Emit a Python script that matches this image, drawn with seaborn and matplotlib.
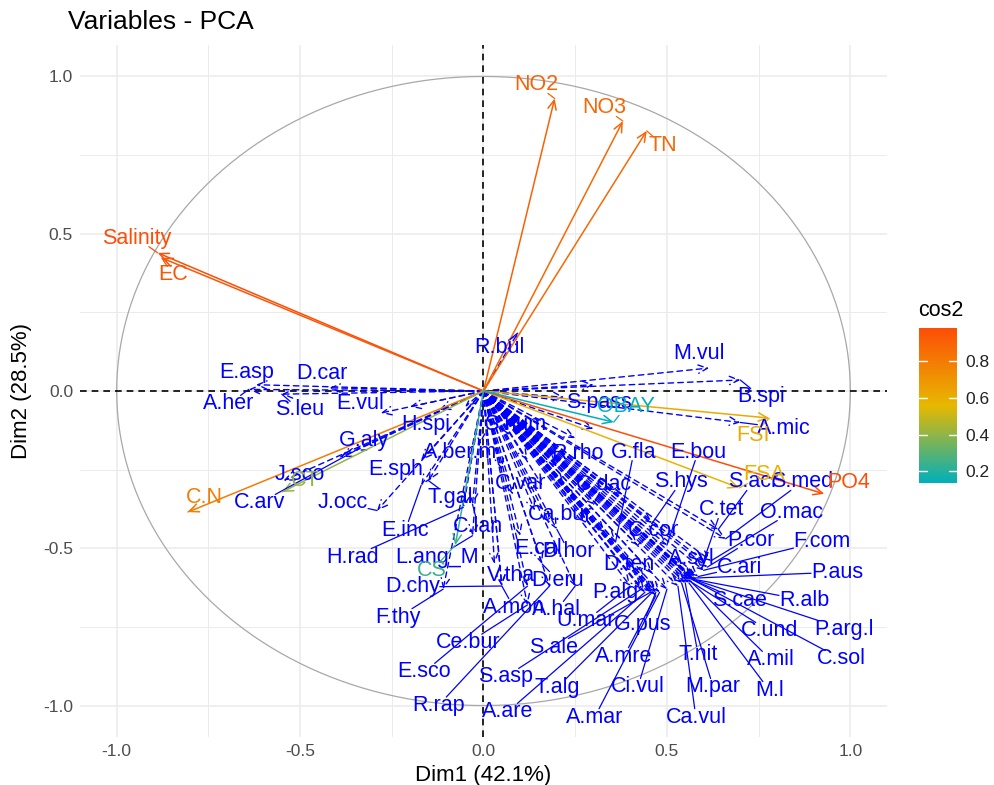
import numpy as np
import pandas as pd
import seaborn as sns
import matplotlib
matplotlib.use('Agg')
import matplotlib.pyplot as plt
from matplotlib.colors import Normalize
from matplotlib.cm import ScalarMappable

# active variables (environment): arrow tips and label positions
env_names = ['Salinity', 'EC', 'NO2', 'NO3', 'TN', 'FSI', 'FSA', 'PO4', 'OBAY', 'C.N', 'CT', 'CS']
env_x = [-0.888, -0.877, 0.194, 0.380, 0.445, 0.779, 0.697, 0.929, 0.355, -0.806, -0.549, -0.077]
env_y = [0.439, 0.423, 0.930, 0.858, 0.827, -0.086, -0.308, -0.327, -0.099, -0.385, -0.321, -0.490]
env_lab_x = [-0.945, -0.847, 0.145, 0.330, 0.490, 0.735, 0.765, 0.995, 0.388, -0.760, -0.486, -0.140]
env_lab_y = [0.486, 0.369, 0.973, 0.900, 0.780, -0.140, -0.267, -0.290, -0.050, -0.340, -0.283, -0.570]

# supplementary variables (species)
sp_names = ['E.asp', 'D.car', 'A.her', 'S.leu', 'E.vul', 'G.aly', 'H.spi', 'J.sco', 'C.arv', 'J.occ',
            'E.sph', 'T.gal', 'E.inc', 'C.lan', 'H.rad', 'L.ang_M', 'D.chy', 'F.thy', 'V.tha', 'E.cal',
            'D.hor', 'D.eru', 'P.alg', 'D.ten', 'A.mon', 'A.hal', 'Ce.bur', 'E.sco', 'S.asp', 'R.rap',
            'A.are', 'S.ale', 'U.mar', 'G.pus', 'A.mre', 'T.alg', 'A.mar', 'Ci.vul', 'Ca.vul', 'M.par',
            'T.nit', 'M.l', 'A.mil', 'C.sol', 'C.und', 'P.arg.l', 'R.alb', 'S.cae', 'P.aus', 'C.ari',
            'F.com', 'P.cor', 'O.mac', 'C.tet', 'A.syl', 'C.cor', 'S.hys', 'E.bou', 'G.fla', 'S.acr',
            'S.med', 'C.dac', 'Ca.bur', 'C.var', 'R.rho', 'A.ber.m', 'S.hum', 'S.pass', 'R.bul', 'M.vul',
            'B.spi', 'A.mic']
sp_x = [-0.62, -0.42, -0.64, -0.55, -0.28, -0.39, -0.12, -0.545, -0.35, -0.29,
        -0.17, -0.15, -0.17, -0.03, -0.055, -0.03, 0.05, -0.11, 0.03, 0.10,
        0.20, 0.16, 0.44, 0.46, 0.05, 0.25, 0.12, 0.12, 0.43, 0.18,
        0.44, 0.455, 0.40, 0.47, 0.47, 0.46, 0.48, 0.50, 0.53, 0.54,
        0.55, 0.56, 0.56, 0.57, 0.57, 0.575, 0.58, 0.58, 0.57, 0.585,
        0.60, 0.61, 0.62, 0.60, 0.54, 0.42, 0.46, 0.50, 0.36, 0.64,
        0.66, 0.30, 0.18, 0.08, 0.20, -0.01, 0.07, 0.22, 0.093, 0.615,
        0.70, 0.70]
sp_y = [0.02, 0.01, 0.005, -0.01, -0.07, -0.21, -0.06, -0.285, -0.19, -0.38,
        -0.22, -0.285, -0.30, -0.36, -0.37, -0.46, -0.62, -0.63, -0.55, -0.46,
        -0.44, -0.55, -0.60, -0.58, -0.62, -0.62, -0.68, -0.62, -0.63, -0.62,
        -0.64, -0.64, -0.62, -0.64, -0.65, -0.64, -0.64, -0.63, -0.62, -0.61,
        -0.61, -0.61, -0.60, -0.60, -0.61, -0.60, -0.60, -0.605, -0.595, -0.59,
        -0.57, -0.56, -0.54, -0.54, -0.56, -0.49, -0.42, -0.49, -0.48, -0.44,
        -0.47, -0.36, -0.42, -0.33, -0.24, -0.17, -0.14, -0.02, 0.184, 0.073,
        0.035, -0.10]
sp_lab_x = [-0.645, -0.44, -0.694, -0.50, -0.336, -0.325, -0.158, -0.50, -0.61, -0.383,
            -0.24, -0.09, -0.213, -0.014, -0.358, -0.126, -0.194, -0.232, 0.074, 0.15,
            0.232, 0.202, 0.36, 0.396, 0.082, 0.20, -0.041, -0.161, 0.06, -0.123,
            0.066, 0.19, 0.279, 0.434, 0.383, 0.20, 0.303, 0.421, 0.579, 0.626,
            0.585, 0.779, 0.784, 0.975, 0.779, 0.984, 0.874, 0.697, 0.964, 0.697,
            0.923, 0.73, 0.839, 0.648, 0.566, 0.464, 0.538, 0.585, 0.41, 0.735,
            0.869, 0.328, 0.21, 0.101, 0.257, -0.063, 0.085, 0.314, 0.044, 0.587,
            0.757, 0.82]
sp_lab_y = [0.060, 0.057, -0.041, -0.06, -0.041, -0.156, -0.105, -0.267, -0.356, -0.356,
            -0.251, -0.337, -0.442, -0.432, -0.528, -0.528, -0.623, -0.719, -0.585, -0.50,
            -0.509, -0.601, -0.64, -0.55, -0.687, -0.696, -0.80, -0.893, -0.909, -1.0,
            -1.02, -0.814, -0.731, -0.741, -0.843, -0.944, -1.037, -0.941, -1.037, -0.941,
            -0.839, -0.951, -0.855, -0.852, -0.763, -0.757, -0.665, -0.665, -0.576, -0.56,
            -0.477, -0.474, -0.385, -0.378, -0.534, -0.445, -0.289, -0.194, -0.194, -0.289,
            -0.289, -0.296, -0.394, -0.293, -0.20, -0.197, -0.108, -0.035, 0.137, 0.118,
            -0.019, -0.118]

# species whose labels are hidden in the crowd (only arrows visible)
extra_x = [0.12, 0.16, 0.22, 0.25, 0.14, 0.28, 0.33, 0.10, 0.05, 0.30, -0.05, -0.20, 0.38, 0.25, 0.30]
extra_y = [-0.22, -0.30, -0.30, -0.35, -0.38, -0.42, -0.45, -0.12, -0.25, -0.12, -0.05, -0.05, -0.33, -0.15, 0.02]

env = pd.DataFrame({'name': env_names, 'x': env_x, 'y': env_y, 'lx': env_lab_x, 'ly': env_lab_y})
env['cos2'] = env['x'] ** 2 + env['y'] ** 2
sp = pd.DataFrame({'name': sp_names, 'x': sp_x, 'y': sp_y, 'lx': sp_lab_x, 'ly': sp_lab_y})

sns.set_theme(style='whitegrid')
plt.rcParams['font.family'] = ['Liberation Sans', 'DejaVu Sans']
plt.rcParams['axes.unicode_minus'] = False

cmap = sns.blend_palette(['#00AFBB', '#E7B800', '#FC4E07'], as_cmap=True)
norm = Normalize(env['cos2'].min(), env['cos2'].max())

fig = plt.figure(figsize=(9.95, 7.85), dpi=100)
ax = fig.add_axes([80 / 995, 1 - 737 / 785, 807 / 995, 692 / 785])
ax.set_xlim(-1.1, 1.1)
ax.set_ylim(-1.1, 1.1)
ax.set_facecolor('white')
for s in ax.spines.values():
    s.set_visible(False)

ticks = [-1.0, -0.5, 0.0, 0.5, 1.0]
ax.set_xticks(ticks)
ax.set_yticks(ticks)
ax.set_xticks([-0.75, -0.25, 0.25, 0.75], minor=True)
ax.set_yticks([-0.75, -0.25, 0.25, 0.75], minor=True)
ax.grid(which='major', color='#EBEBEB', lw=1.1)
ax.grid(which='minor', color='#EBEBEB', lw=0.7)
ax.tick_params(which='both', length=0, labelsize=12.5, labelcolor='#4D4D4D', pad=5)
ax.set_axisbelow(True)

# correlation circle
t = np.linspace(0, 2 * np.pi, 400)
ax.plot(np.cos(t), np.sin(t), color='#A8A8A8', lw=0.9, zorder=1)
ax.axhline(0, color='black', ls=(0, (4, 3)), lw=1.2, zorder=2)
ax.axvline(0, color='black', ls=(0, (4, 3)), lw=1.2, zorder=2)

head = '->,head_length=0.55,head_width=0.25'

# species arrows (dashed, blue)
for x, y in list(zip(sp['x'], sp['y'])) + list(zip(extra_x, extra_y)):
    ax.annotate('', xy=(x, y), xytext=(0, 0),
                arrowprops=dict(arrowstyle=head, color='blue', lw=1.0, linestyle=(0, (4, 3)),
                                shrinkA=0, shrinkB=0), zorder=3)

# environment arrows coloured by cos2
for _, r in env.iterrows():
    ax.annotate('', xy=(r['x'], r['y']), xytext=(0, 0),
                arrowprops=dict(arrowstyle=head, color=cmap(norm(r['cos2'])), lw=1.1,
                                shrinkA=0, shrinkB=0), zorder=4)

renderer = fig.canvas.get_renderer()
inv = ax.transData.inverted()


def label_with_leader(x, y, lx, ly, name, color):
    txt = ax.text(lx, ly, name, color=color, fontsize=15.5, ha='center', va='center', zorder=6)
    bb = txt.get_window_extent(renderer)
    px, py = ax.transData.transform((x, y))
    cx, cy = (bb.x0 + bb.x1) / 2, (bb.y0 + bb.y1) / 2
    dx, dy = cx - px, cy - py
    hw, hh = bb.width / 2, bb.height / 2 - 2
    if abs(dx) <= hw and abs(dy) <= hh:
        return
    f = min(hw / abs(dx) if dx else np.inf, hh / abs(dy) if dy else np.inf)
    ex, ey = cx - f * dx, cy - f * dy
    if np.hypot(ex - px, ey - py) < 8:
        return
    (x0, y0), (x1, y1) = inv.transform([(px, py), (ex, ey)])
    ax.plot([x0, x1], [y0, y1], color=color, lw=0.9, zorder=5)


for _, r in sp.iterrows():
    label_with_leader(r['x'], r['y'], r['lx'], r['ly'], r['name'], 'blue')
for _, r in env.iterrows():
    label_with_leader(r['x'], r['y'], r['lx'], r['ly'], r['name'], cmap(norm(r['cos2'])))

ax.set_xlabel('Dim1 (42.1%)', fontsize=16, color='black', labelpad=4)
ax.set_ylabel('Dim2 (28.5%)', fontsize=16, color='black', labelpad=8)
fig.text(68 / 995, 1 - 22 / 785, 'Variables - PCA', fontsize=19, color='black',
         ha='left', va='center')

# colour bar legend
cax = fig.add_axes([919 / 995, 1 - 483 / 785, 38 / 995, 155 / 785])
cb = fig.colorbar(ScalarMappable(norm=norm, cmap=cmap), cax=cax)
cb.outline.set_visible(False)
cb.set_ticks([0.2, 0.4, 0.6, 0.8])
cb.ax.tick_params(length=0, labelsize=12.5, labelcolor='#222222', pad=6)
for v in [0.2, 0.4, 0.6, 0.8]:
    cax.axhline(v, xmin=0, xmax=0.2, color='white', lw=1)
    cax.axhline(v, xmin=0.8, xmax=1.0, color='white', lw=1)
fig.text(918 / 995, 1 - 310 / 785, 'cos2', fontsize=15.5, color='black', ha='left', va='center')

fig.savefig('out.png', dpi=100)
